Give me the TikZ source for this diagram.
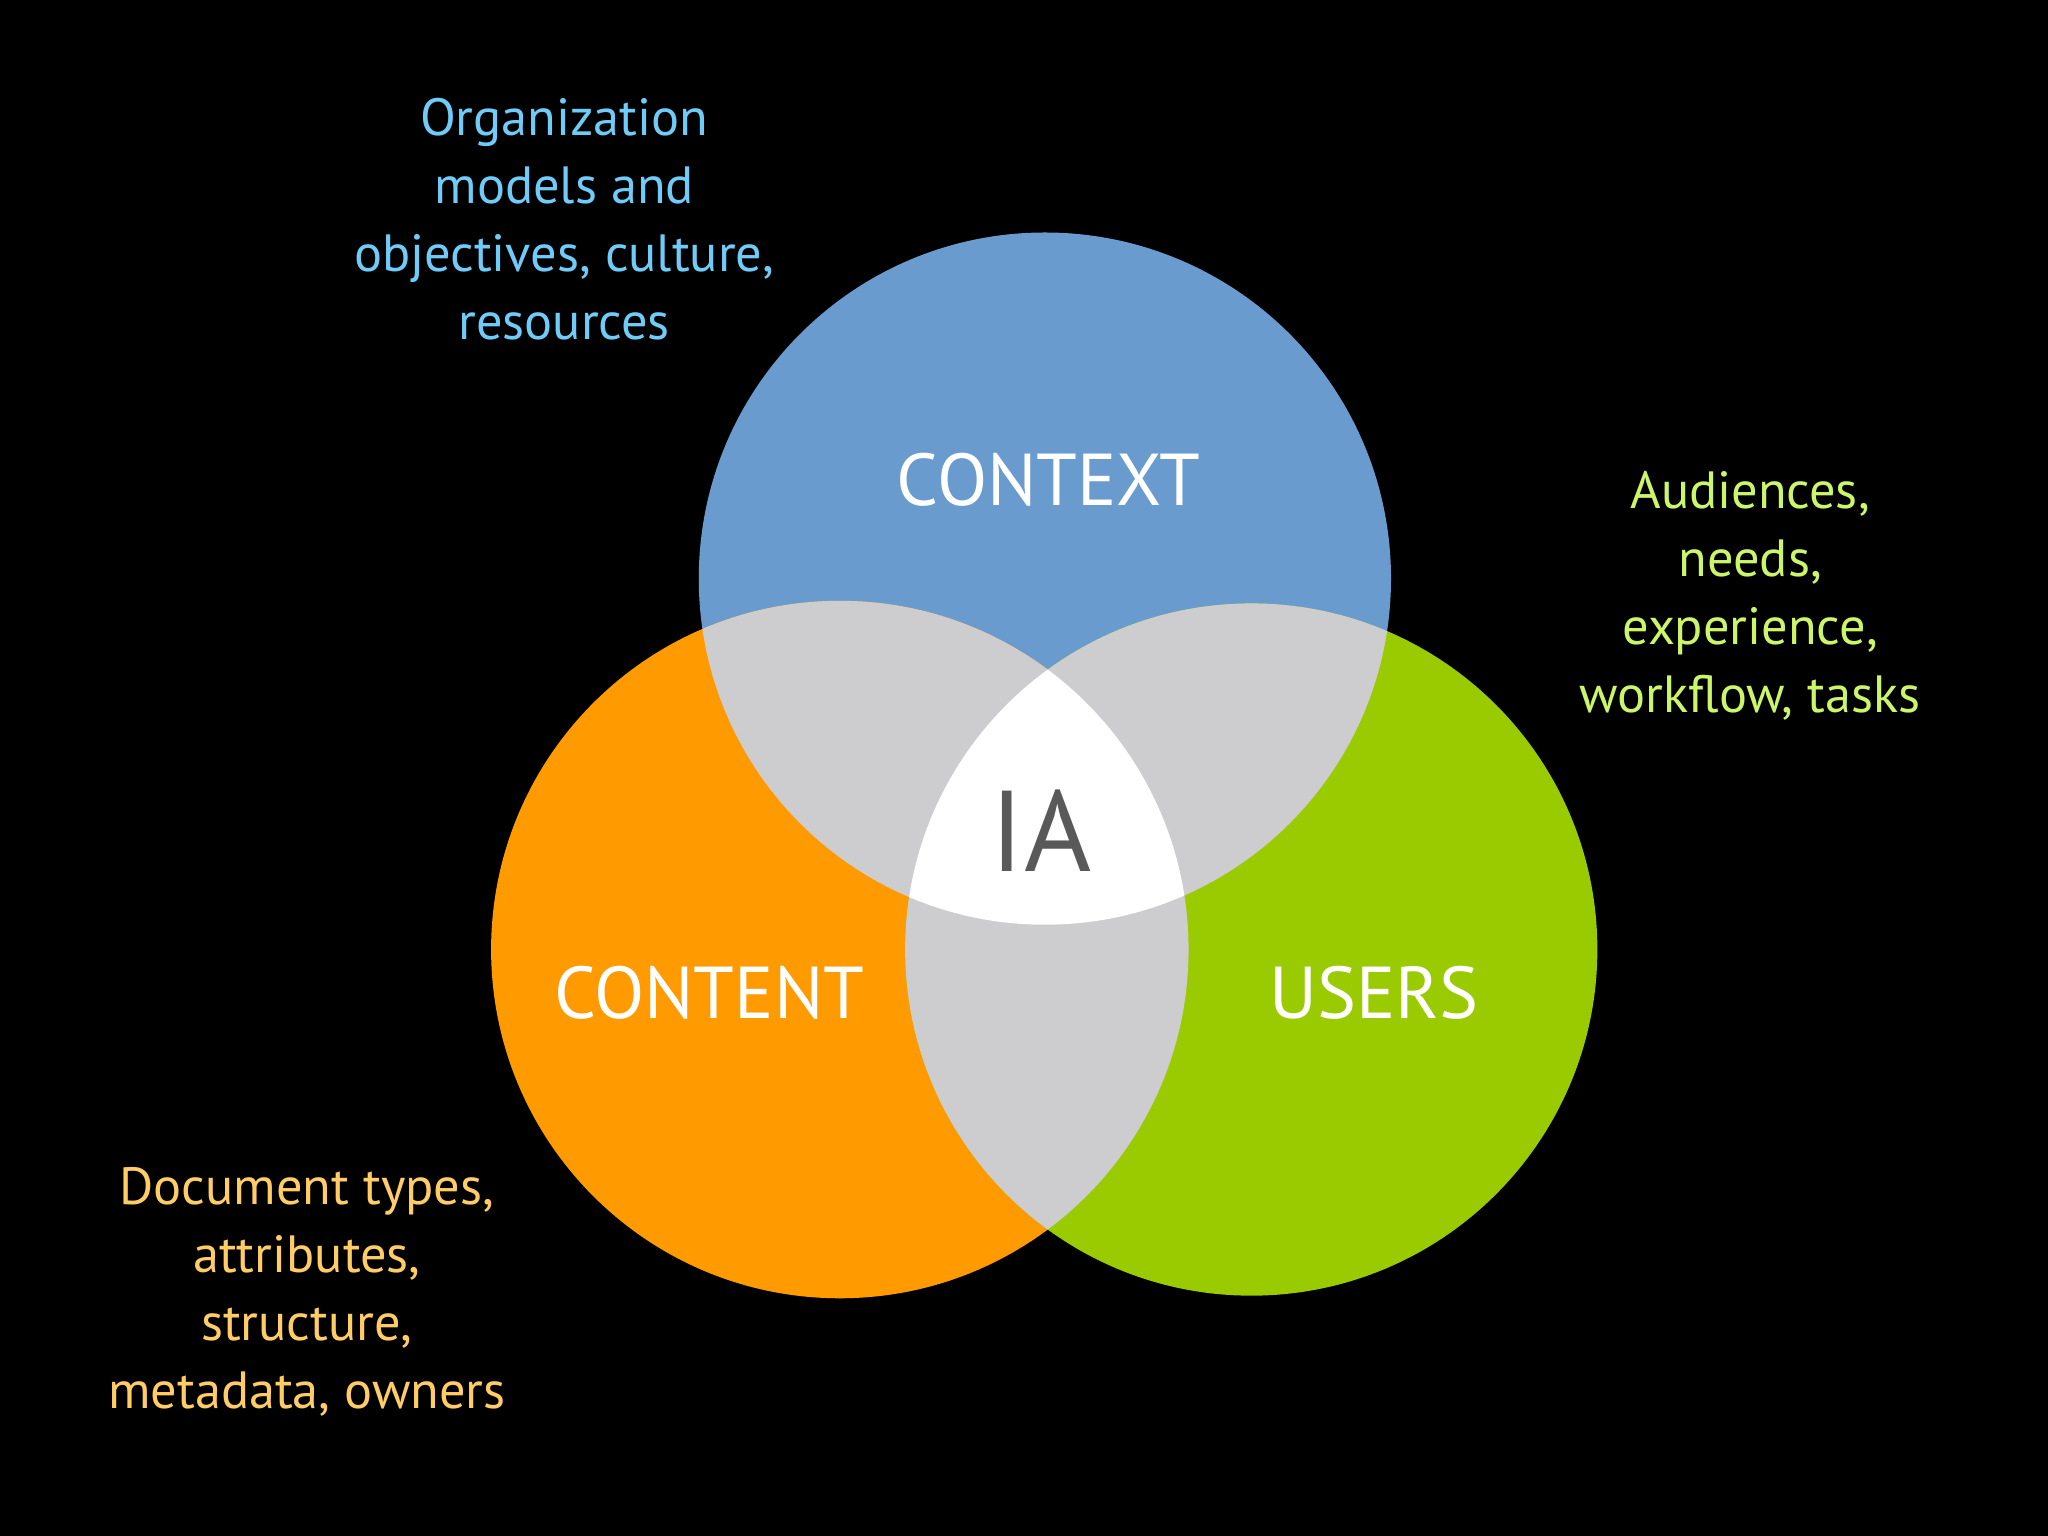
\documentclass[tikz,border=0pt]{standalone}
\usepackage{fontspec}
\setmainfont{PT Sans}
\definecolor{ctxblue}{HTML}{6A9BCF}
\definecolor{cntorange}{HTML}{FF9A00}
\definecolor{usrgreen}{HTML}{99CB00}
\definecolor{overlap}{HTML}{CDCDCF}
\definecolor{ctxtext}{HTML}{6FCBF7}
\definecolor{usrtext}{HTML}{CCF56A}
\definecolor{cnttext}{HTML}{FFCC66}

\begin{document}
\begin{tikzpicture}
    [
    x=0.01cm, y=-0.01cm,
    set label/.style={text=white, font=\fontsize{16}{18}\selectfont},
    note/.style={align=center, font=\fontsize{11.4}{14.8}\selectfont},
    ]

    \fill[black] (0,0) rectangle (1568,1176);
    \useasboundingbox (0,0) rectangle (1568,1176);

    \def\ctxcircle{(800,443) circle[radius=265]}
    \def\cntcircle{(643,727) circle[radius=267]}
    \def\usrcircle{(958,727) circle[radius=265]}

    % the three sets
    \fill[ctxblue] \ctxcircle;
    \fill[cntorange] \cntcircle;
    \fill[usrgreen] \usrcircle;

    % pairwise overlaps
    \begin{scope}
        \clip \ctxcircle;
        \fill[overlap] \cntcircle;
        \fill[overlap] \usrcircle;
    \end{scope}
    \begin{scope}
        \clip \cntcircle;
        \fill[overlap] \usrcircle;
    \end{scope}

    % centre
    \begin{scope}
        \clip \ctxcircle;
        \clip \cntcircle;
        \fill[white] \usrcircle;
    \end{scope}

    \node[set label] (lbl_context) at (803,367) {CONTEXT};
    \node[set label] (lbl_content) at (543,760) {CONTENT};
    \node[set label] (lbl_users) at (1052,760) {USERS};
    \node[text=black!65, font=\fontsize{25}{28}\selectfont] (lbl_ia) at (797,636) {IA};

    \node[note, text=ctxtext] (note_context) at (432,168)
    {Organization\\models and\\objectives, culture,\\resources};
    \node[note, text=usrtext] (note_users) at (1340,456)
    {Audiences,\\needs,\\experience,\\workflow, tasks};
    \node[note, text=cnttext] (note_content) at (235,989)
    {Document types,\\attributes,\\structure,\\metadata, owners};
\end{tikzpicture}
\end{document}
